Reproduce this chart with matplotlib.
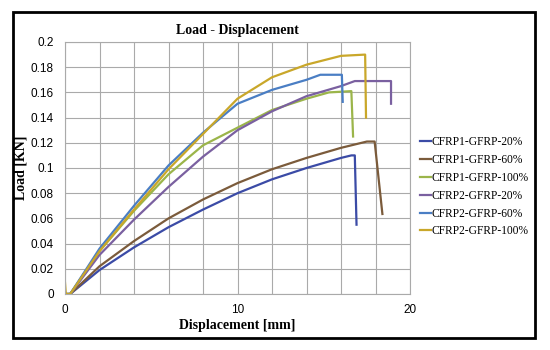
import matplotlib.pyplot as plt
from matplotlib.patches import Rectangle

# displacement [mm] / load [kN]
c1_20_x = [0, 0.3, 2, 4, 6, 8, 10, 12, 14, 16, 16.6, 16.8, 16.9]
c1_20_y = [0, 0, 0.019, 0.037, 0.053, 0.067, 0.080, 0.091, 0.100, 0.108, 0.110, 0.110, 0.055]

c1_60_x = [0, 0.3, 2, 4, 6, 8, 10, 12, 14, 16, 17.5, 17.95, 18.4]
c1_60_y = [0, 0, 0.022, 0.042, 0.060, 0.075, 0.088, 0.099, 0.108, 0.116, 0.121, 0.121, 0.0635]

c1_100_x = [0, 0.3, 2, 4, 6, 8, 10, 12, 14, 15.3, 16.6, 16.7]
c1_100_y = [0, 0, 0.034, 0.066, 0.095, 0.118, 0.132, 0.146, 0.155, 0.160, 0.161, 0.125]

c2_20_x = [0, 0.3, 2, 4, 6, 8, 10, 12, 14, 16, 16.8, 18.9, 18.9]
c2_20_y = [0, 0, 0.031, 0.059, 0.085, 0.109, 0.130, 0.145, 0.157, 0.165, 0.169, 0.169, 0.151]

c2_60_x = [0, 0.3, 2, 4, 6, 8, 10, 12, 14, 14.8, 16.05, 16.1]
c2_60_y = [0, 0, 0.036, 0.070, 0.102, 0.128, 0.151, 0.162, 0.170, 0.174, 0.174, 0.1525]

c2_100_x = [0, 0.05, 0.3, 2, 4, 6, 8, 10, 12, 14, 16, 17.4, 17.45]
c2_100_y = [0.009, 0, 0, 0.034, 0.067, 0.099, 0.127, 0.155, 0.172, 0.182, 0.189, 0.190, 0.140]

names = ['CFRP1-GFRP-20%', 'CFRP1-GFRP-60%', 'CFRP1-GFRP-100%',
         'CFRP2-GFRP-20%', 'CFRP2-GFRP-60%', 'CFRP2-GFRP-100%']
colors = ['#3B4BA6', '#7B5B3B', '#9BB54A', '#7A60A0', '#4A7EC4', '#C9A72A']
series = [(c1_20_x, c1_20_y), (c1_60_x, c1_60_y), (c1_100_x, c1_100_y),
          (c2_20_x, c2_20_y), (c2_60_x, c2_60_y), (c2_100_x, c2_100_y)]

fig = plt.figure(figsize=(5.5, 3.5), dpi=100)
ax = fig.add_axes([65 / 550, 56 / 350, 345 / 550, 252 / 350])

for (x, y), name, c in zip(series, names, colors):
    ax.plot(x, y, color=c, lw=1.6, label=name)

ax.set_xlim(0, 20)
ax.set_ylim(0, 0.2)
ax.set_xticks([0, 10, 20])
ax.set_xticks(range(0, 21, 2), minor=True)
ax.set_yticks([i * 0.02 for i in range(11)])
ax.set_yticklabels(['0', '0.02', '0.04', '0.06', '0.08', '0.1', '0.12',
                    '0.14', '0.16', '0.18', '0.2'])
ax.grid(True, which='both', color='#AAAAAA', lw=0.8)
ax.set_axisbelow(True)
for s in ax.spines.values():
    s.set_color('#AAAAAA')
ax.tick_params(which='both', length=0, labelsize=8.5, colors='black')
ax.tick_params(axis='y', pad=8)
ax.tick_params(axis='x', pad=7)
for lab in ax.get_xticklabels() + ax.get_yticklabels():
    lab.set_family('Liberation Sans')

ax.set_title('Load - Displacement', family='Liberation Serif', weight='bold',
             fontsize=10, pad=6)
ax.set_xlabel('Displacement [mm]', family='Liberation Serif', weight='bold',
              fontsize=10, labelpad=2)
ax.set_ylabel('Load [KN]', family='Liberation Serif', weight='bold',
              fontsize=10, labelpad=2)

ax.legend(loc='center left', bbox_to_anchor=(1.016, 0.425), frameon=False,
          borderaxespad=0, prop={'family': 'Liberation Serif', 'size': 8.3},
          handlelength=0.9, handletextpad=0.1, labelspacing=0.5)

fig.patches.append(Rectangle((13 / 550, 12 / 350), 522 / 550, 326 / 350,
                             transform=fig.transFigure, fill=False,
                             edgecolor='black', lw=2))

fig.savefig('out.png', dpi=100)
